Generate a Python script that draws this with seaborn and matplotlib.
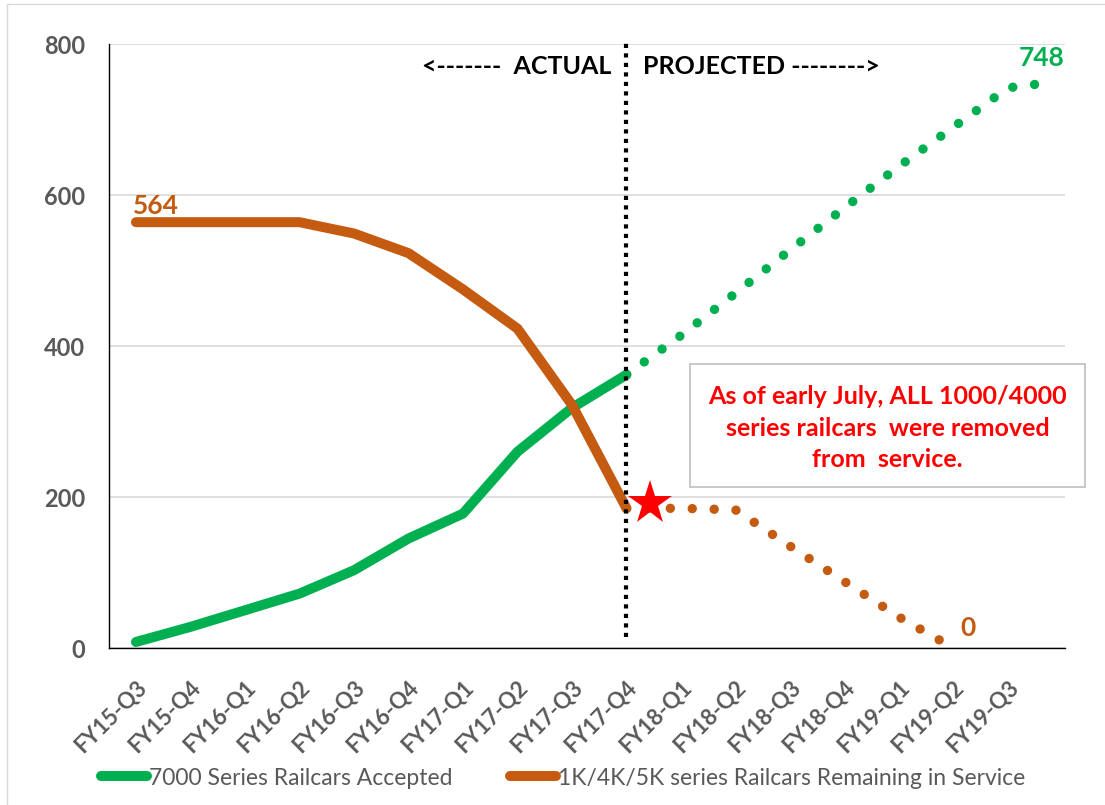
import matplotlib
matplotlib.use("Agg")
import pandas as pd
import seaborn as sns
import matplotlib.pyplot as plt
from matplotlib.lines import Line2D
from matplotlib.patches import Rectangle

## datos (x en trimestres desde FY15-Q3)
quarter_labels = ['FY15-Q3', 'FY15-Q4', 'FY16-Q1', 'FY16-Q2', 'FY16-Q3', 'FY16-Q4',
                  'FY17-Q1', 'FY17-Q2', 'FY17-Q3', 'FY17-Q4', 'FY18-Q1', 'FY18-Q2',
                  'FY18-Q3', 'FY18-Q4', 'FY19-Q1', 'FY19-Q2', 'FY19-Q3']

actual_q = [0, 1, 2, 3, 4, 5, 6, 7, 8, 9]
accepted_actual = [8, 28, 50, 72, 103, 145, 178, 260, 318, 362]
remaining_actual = [564, 564, 564, 564, 549, 523, 475, 423, 322, 185]

proj_q_green = [9, 10, 11, 12, 13, 14, 15, 16, 16.67]
accepted_proj = [362, 414, 470, 527, 583, 638, 690, 742, 748]
proj_q_orange = [9, 10, 11, 12, 13, 14, 15]
remaining_proj = [185, 185, 183, 135, 88, 41, 0]

star_q, star_val = 9.43, 192

GREEN = '#00B050'
ORANGE = '#C55A11'
GRAY = '#595959'

sns.set_style("white")
plt.rcParams['font.family'] = ['Lato', 'DejaVu Sans']

df_act = pd.DataFrame({
    'q': actual_q + actual_q,
    'val': accepted_actual + remaining_actual,
    'serie': ['acc'] * len(actual_q) + ['rem'] * len(actual_q),
})
df_proj = pd.DataFrame({
    'q': proj_q_green + proj_q_orange,
    'val': accepted_proj + remaining_proj,
    'serie': ['acc'] * len(proj_q_green) + ['rem'] * len(proj_q_orange),
})
paleta = {'acc': GREEN, 'rem': ORANGE}

fig = plt.figure(figsize=(11.05, 8.05), dpi=100)
ax = fig.add_axes([109 / 1105, 157 / 805, 956 / 1105, 604 / 805])

sns.lineplot(data=df_act, x='q', y='val', hue='serie', palette=paleta, ax=ax,
             linewidth=7.2, solid_capstyle='round', solid_joinstyle='round',
             legend=False, sort=False, zorder=3)
sns.lineplot(data=df_proj, x='q', y='val', hue='serie', palette=paleta, ax=ax,
             linewidth=6.8, linestyle=(0, (0.001, 2.32)), dash_capstyle='round',
             legend=False, sort=False, zorder=3)

# linea divisoria actual / proyectado
ax.plot([9, 9], [15, 803], color='black', lw=3, linestyle=(0, (1, 1.28)),
        clip_on=False, zorder=4)
ax.plot([star_q], [star_val], marker='*', color='red', markersize=33,
        markeredgewidth=0, zorder=5)

ax.set_xlim(-0.495, 17.046)
ax.set_ylim(0, 800)
ax.set_yticks([0, 200, 400, 600, 800])
ax.set_xticks(range(len(quarter_labels)))
ax.set_xticklabels(quarter_labels, rotation=45, ha='right', va='top',
                   rotation_mode='anchor', color=GRAY, fontsize=16,
                   fontweight='bold')
for lbl in ax.get_yticklabels():
    lbl.set_fontweight('bold')
    lbl.set_color(GRAY)
    lbl.set_fontsize(17)
ax.tick_params(axis='x', length=0, pad=21)
ax.tick_params(axis='y', length=0, pad=17)
ax.set_xlabel('')
ax.set_ylabel('')
ax.yaxis.grid(True, color='#d9d9d9', lw=1.2)
ax.set_axisbelow(True)
for s in ['top', 'right']:
    ax.spines[s].set_visible(False)
for s in ['left', 'bottom']:
    ax.spines[s].set_color('black')
    ax.spines[s].set_linewidth(1.0)

# etiquetas de datos
ax.text(-0.05, 570, '564', color=ORANGE, fontsize=19, fontweight='bold',
        ha='left', va='bottom')
ax.text(16.62, 781, '748', color=GREEN, fontsize=19, fontweight='bold',
        ha='center', va='center')
ax.text(15.27, 27, '0', color=ORANGE, fontsize=19, fontweight='bold',
        ha='center', va='center')
ax.text(8.72, 770, '<-------  ACTUAL', color='black', fontsize=18,
        fontweight='bold', ha='right', va='center')
ax.text(9.3, 770, 'PROJECTED -------->', color='black', fontsize=18,
        fontweight='bold', ha='left', va='center')

# cuadro de texto
fig.add_artist(Rectangle((690 / 1105, (805 - 487) / 805), 395 / 1105, 123 / 805,
                         transform=fig.transFigure, facecolor='white',
                         edgecolor='#bfbfbf', lw=1.2, zorder=6))
fig.text(887.5 / 1105, (805 - 428) / 805,
         'As of early July, ALL 1000/4000\nseries railcars  were removed\nfrom  service.',
         color='red', fontsize=18, fontweight='bold', ha='center', va='center',
         linespacing=1.45, zorder=7)

# borde del grafico
fig.add_artist(Rectangle((7 / 1105, -0.02), 1.1, (805 - 4) / 805 + 0.02,
                         transform=fig.transFigure, facecolor='none',
                         edgecolor='#d9d9d9', lw=1.0))

# leyenda
handles = [Line2D([], [], color=GREEN, lw=7.2, solid_capstyle='round'),
           Line2D([], [], color=ORANGE, lw=7.2, solid_capstyle='round')]
fig.legend(handles, ['7000 Series Railcars Accepted',
                     '1K/4K/5K series Railcars Remaining in Service'],
           loc='center', bbox_to_anchor=(563 / 1105, 27 / 805), ncol=2,
           frameon=False, fontsize=16.5, labelcolor=GRAY, handlelength=2.0,
           handletextpad=0.1, columnspacing=2.5)

fig.savefig('out.png', dpi=100)
